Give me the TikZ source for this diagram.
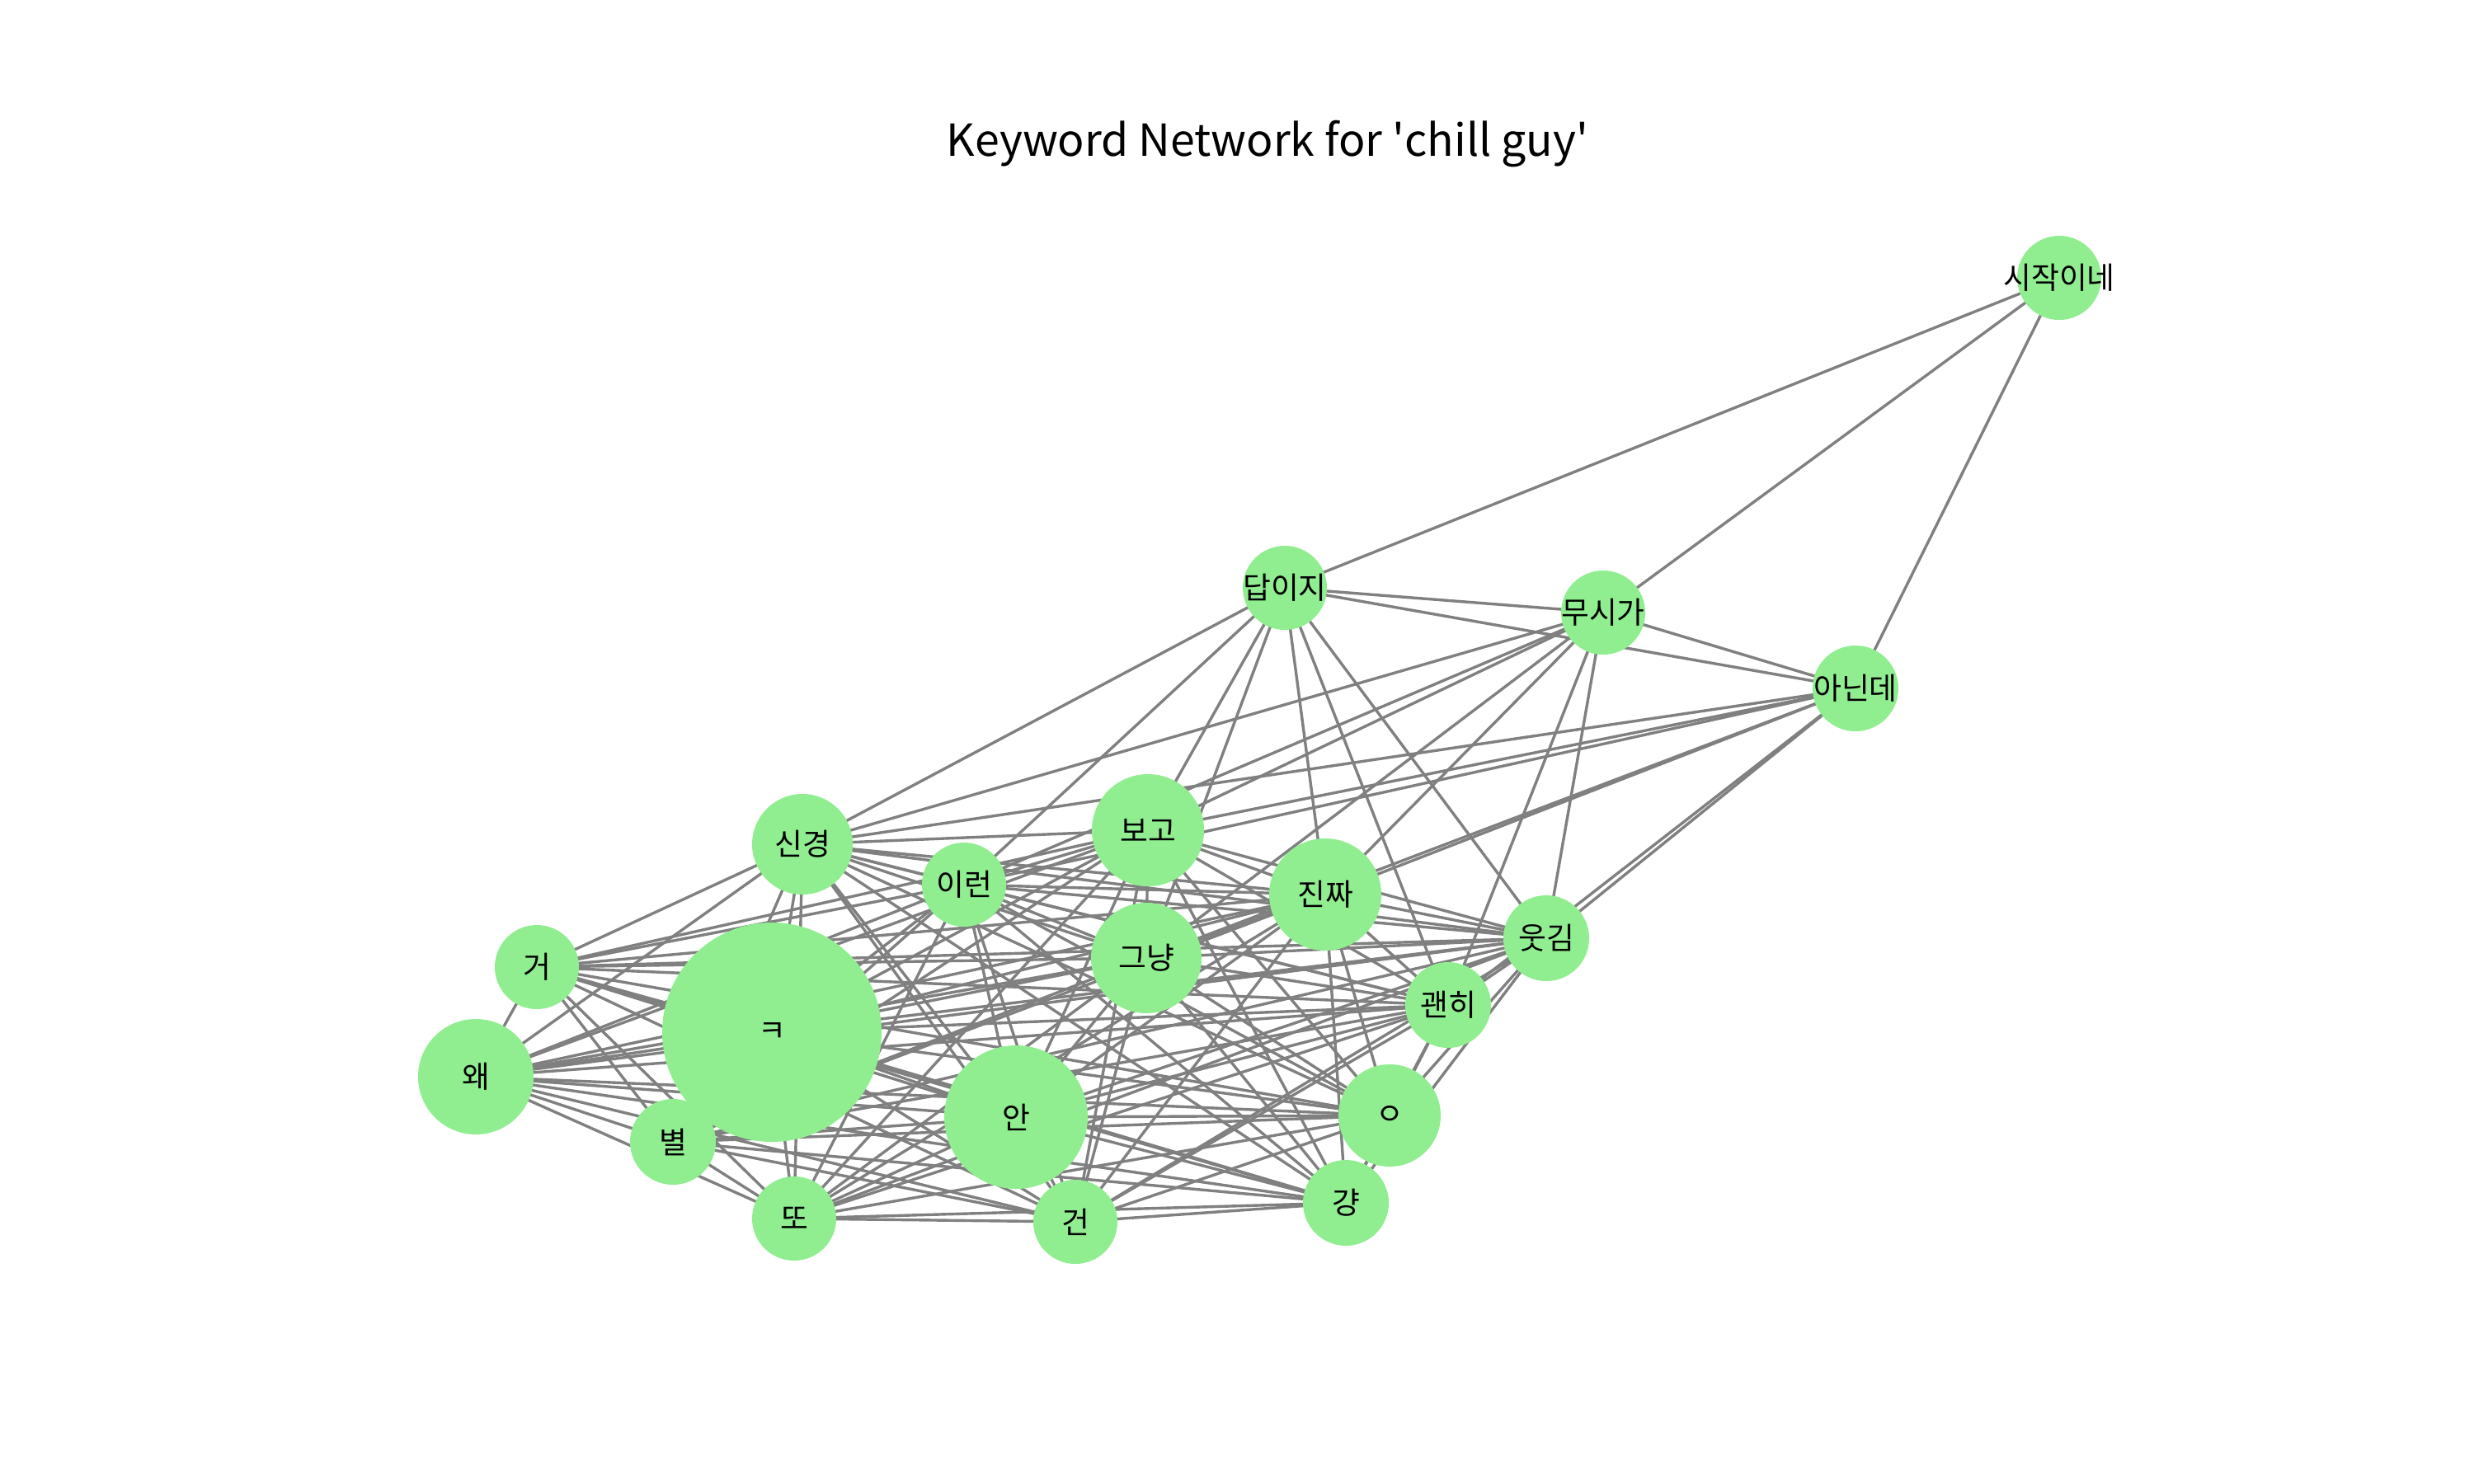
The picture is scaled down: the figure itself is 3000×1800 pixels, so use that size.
\documentclass[tikz,border=0pt]{standalone}
\usepackage{fontspec}
\setmainfont{Noto Sans CJK KR}
\definecolor{lgreen}{HTML}{90EE90}
\definecolor{edgegray}{HTML}{808080}
\pgfdeclarelayer{background}
\pgfsetlayers{background,main}
\begin{document}
\begin{tikzpicture}[x=0.25pt,y=-0.25pt,
  kw/.style={circle,fill=lgreen,draw=none,inner sep=0pt,minimum size=#1*0.5pt},
  every label/.style={font=\fontsize{9.2}{11}\selectfont,text=black,inner sep=0pt},
  edgeln/.style={draw=edgegray,line width=0.85pt}]
\useasboundingbox (0,0) rectangle (3000,1800);
\node[font=\fontsize{13.4}{16}\selectfont,anchor=base,inner sep=0pt] (title) at (1537,189) {Keyword Network for \textquotesingle chill guy\textquotesingle};
\node[kw=51,label={center:시작이네}] (s1) at (2497,337) {};
\node[kw=51,label={center:답이지}] (dp) at (1558,713) {};
\node[kw=51,label={center:무시가}] (ms) at (1944,743) {};
\node[kw=52,label={center:아닌데}] (an2) at (2250,835) {};
\node[kw=61,label={center:신경}] (sg) at (973,1024) {};
\node[kw=68,label={center:보고}] (bg) at (1392,1007) {};
\node[kw=51,label={center:이런}] (ir) at (1169,1073) {};
\node[kw=68,label={center:진짜}] (jj) at (1607,1085) {};
\node[kw=67,label={center:그냥}] (gn) at (1390,1162) {};
\node[kw=52,label={center:웃김}] (uk) at (1875,1138) {};
\node[kw=51,label={center:거}] (ge) at (651,1173) {};
\node[kw=133,label={center:ㅋ}] (kk) at (936,1252) {};
\node[kw=52,label={center:괜히}] (gh) at (1756,1219) {};
\node[kw=70,label={center:왜}] (wa) at (577,1306) {};
\node[kw=87,label={center:안}] (an) at (1232,1355) {};
\node[kw=62,label={center:ㅇ}] (ng) at (1685,1353) {};
\node[kw=52,label={center:별}] (by) at (816,1385) {};
\node[kw=51,label={center:또}] (tt) at (963,1478) {};
\node[kw=51,label={center:건}] (gun) at (1304,1482) {};
\node[kw=52,label={center:걍}] (gy) at (1632,1459) {};
\begin{pgfonlayer}{background}
\fill[white] (0,0) rectangle (3000,1800);
\foreach \p [count=\i] in {sg,bg,ir,jj,gn,uk,gh,ge,kk,wa,an,ng,by,tt,gun,gy} {
  \foreach \q [count=\j] in {sg,bg,ir,jj,gn,uk,gh,ge,kk,wa,an,ng,by,tt,gun,gy} {
    \ifnum\j>\i \draw[edgeln] (\p.center) -- (\q.center); \fi
  }
}
\foreach \p in {dp,ms,an2} {
  \foreach \q in {sg,ir,bg,gn,jj,gh,uk} {
    \draw[edgeln] (\p.center) -- (\q.center);
  }
}
\draw[edgeln] (dp.center) -- (ms.center);
\draw[edgeln] (dp.center) -- (an2.center);
\draw[edgeln] (ms.center) -- (an2.center);
\draw[edgeln] (s1.center) -- (dp.center);
\draw[edgeln] (s1.center) -- (ms.center);
\draw[edgeln] (s1.center) -- (an2.center);
\end{pgfonlayer}
\end{tikzpicture}
\end{document}
